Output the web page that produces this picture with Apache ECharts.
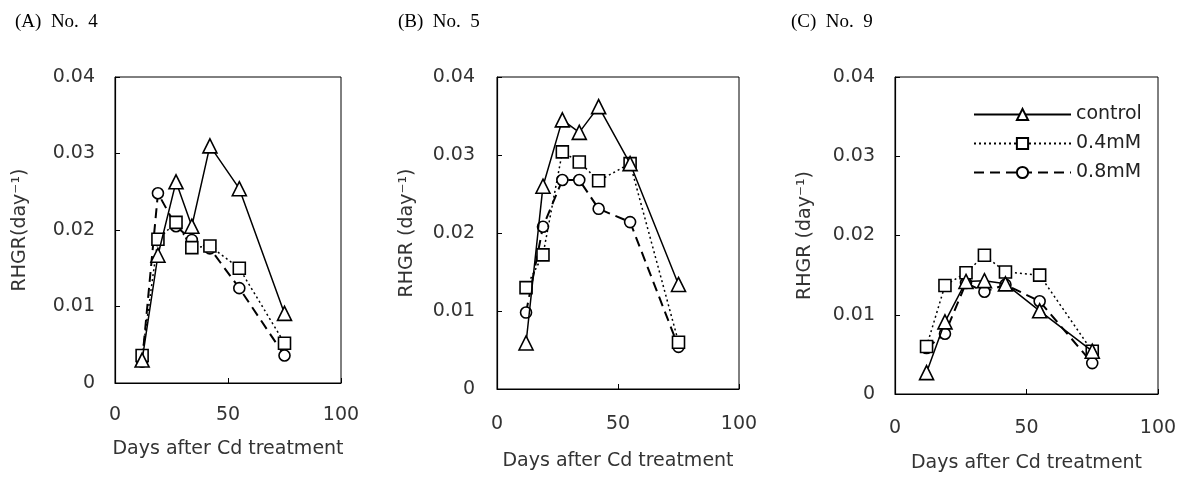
<!DOCTYPE html>
<html>
<head>
<meta charset="utf-8">
<script src="https://cdn.jsdelivr.net/npm/echarts@6/dist/echarts.min.js"></script>
<style>
  html, body { margin: 0; padding: 0; background: #fff; }
  #c1 { width: 1182px; height: 478px; }
</style>
</head>
<body>
<div id="c1"></div>
<script>
// days after Cd treatment (shared by all panels)
var days = [12, 19, 27, 34, 42, 55, 75];
var xTicks = [0, 50, 100];
var yTicks = [0, 0.01, 0.02, 0.03, 0.04];
var seriesNames = ["control", "0.4mM", "0.8mM"];
var panelTitles = ["(A)  No.  4", "(B)  No.  5", "(C)  No.  9"];
var yNames = ["RHGR(day\u207B\u00B9)", "RHGR (day\u207B\u00B9)", "RHGR (day\u207B\u00B9)"];
var xName = "Days after Cd treatment";

// No. 4
var ctrlA = [0.003, 0.0167, 0.0263, 0.0205, 0.031, 0.0254, 0.0091];
var mM04A = [0.0036, 0.0188, 0.021, 0.0177, 0.0179, 0.015, 0.0052];
var mM08A = [0.0028, 0.0248, 0.0205, 0.0187, 0.0176, 0.0124, 0.0036];
// No. 5
var ctrlB = [0.0059, 0.026, 0.0345, 0.0329, 0.0362, 0.0289, 0.0134];
var mM04B = [0.013, 0.0172, 0.0304, 0.0291, 0.0267, 0.0289, 0.006];
var mM08B = [0.0098, 0.0208, 0.0268, 0.0268, 0.0231, 0.0214, 0.0054];
// No. 9
var ctrlC = [0.0027, 0.0091, 0.0142, 0.0143, 0.0139, 0.0105, 0.0054];
var mM04C = [0.006, 0.0137, 0.0153, 0.0175, 0.0154, 0.015, 0.0054];
var mM08C = [0.0058, 0.0076, 0.014, 0.0129, 0.0138, 0.0117, 0.0039];

var panels = [
  { data: [ctrlA, mM04A, mM08A], grid: { left: 115, top: 77, width: 226, height: 306 }, yMargin: 20, xMargin: 23, xGap: 57, yGap: 85, titleLeft: 10 },
  { data: [ctrlB, mM04B, mM08B], grid: { left: 497, top: 77, width: 242, height: 312 }, yMargin: 22, xMargin: 26, xGap: 63, yGap: 80, titleLeft: 393 },
  { data: [ctrlC, mM04C, mM08C], grid: { left: 895, top: 77, width: 263, height: 320 }, yMargin: 20, xMargin: 25, xGap: 60, yGap: 80, titleLeft: 786 },
];

var looks = [
  { symbol: "triangle", symbolSize: 14, lineStyle: { color: "#000", width: 1.5, type: "solid" } },
  { symbol: "rect", symbolSize: 12, lineStyle: { color: "#000", width: 1.5, type: [2, 3] } },
  { symbol: "circle", symbolSize: 11, lineStyle: { color: "#000", width: 2, type: [10, 6] } },
];

var labelFont = { fontFamily: "DejaVu Sans", fontSize: 19, color: "#333" };

var chartDom = document.getElementById("c1");
var myChart = echarts.init(chartDom);
var option = {
  backgroundColor: "#fff",
  animation: false,
  title: [],
  grid: [],
  xAxis: [],
  yAxis: [],
  series: [],
  legend: {
    data: seriesNames,
    orient: "vertical",
    left: 968,
    top: 100,
    itemWidth: 97,
    itemHeight: 14,
    itemGap: 10,
    textStyle: { fontFamily: "DejaVu Sans", fontSize: 19, color: "#222" },
  },
};

panels.forEach(function (p, i) {
  option.title.push({
    text: panelTitles[i],
    left: p.titleLeft,
    top: 8,
    textStyle: { fontFamily: "Liberation Serif", fontSize: 19, fontWeight: "normal", color: "#000" },
  });
  option.grid.push(Object.assign({ show: true, borderColor: "#000", borderWidth: 1, backgroundColor: "transparent" }, p.grid));
  option.xAxis.push({
    type: "value",
    gridIndex: i,
    min: xTicks[0],
    max: xTicks[xTicks.length - 1],
    interval: xTicks[1] - xTicks[0],
    name: xName,
    nameLocation: "middle",
    nameGap: p.xGap,
    nameTextStyle: labelFont,
    axisLine: { lineStyle: { color: "#000", width: 1.2 } },
    axisTick: { inside: true, length: 5, lineStyle: { color: "#000" } },
    axisLabel: Object.assign({ margin: p.xMargin }, labelFont),
    splitLine: { show: false },
  });
  option.yAxis.push({
    type: "value",
    gridIndex: i,
    min: yTicks[0],
    max: yTicks[yTicks.length - 1],
    interval: yTicks[1] - yTicks[0],
    name: yNames[i],
    nameLocation: "middle",
    nameGap: p.yGap,
    nameTextStyle: labelFont,
    axisLine: { lineStyle: { color: "#000", width: 1.2 } },
    axisTick: { inside: true, length: 5, lineStyle: { color: "#000" } },
    axisLabel: Object.assign({
      margin: p.yMargin,
      formatter: function (v) { return v === 0 ? "0" : v.toFixed(2); },
    }, labelFont),
    splitLine: { show: false },
  });
  p.data.forEach(function (vals, k) {
    option.series.push({
      name: seriesNames[k],
      type: "line",
      xAxisIndex: i,
      yAxisIndex: i,
      data: days.map(function (d, j) { return [d, vals[j]]; }),
      symbol: looks[k].symbol,
      symbolSize: looks[k].symbolSize,
      showAllSymbol: true,
      lineStyle: looks[k].lineStyle,
      itemStyle: { color: "#fff", borderColor: "#000", borderWidth: 1.6 },
      z: 3 - k,
    });
  });
});

myChart.setOption(option);
window.addEventListener("resize", function () {
  myChart.resize();
});
</script>
</body>
</html>
